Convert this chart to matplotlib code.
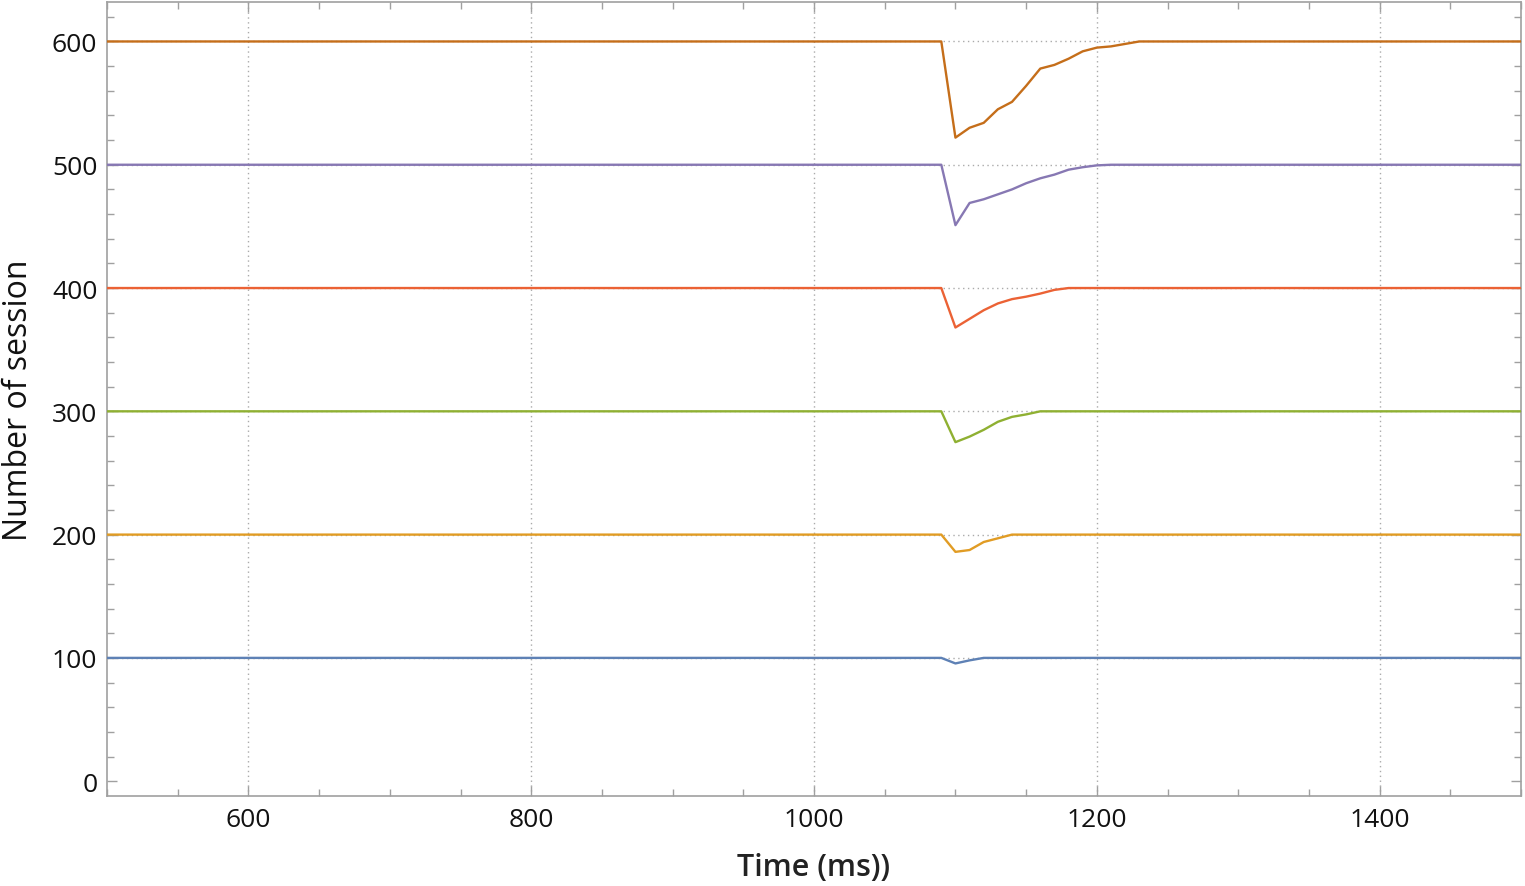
import matplotlib.pyplot as plt
from matplotlib.ticker import MultipleLocator

# time axis (ms) for every series; flat before 1090 and after the recovery
t_600 = [500, 1090, 1100, 1110, 1120, 1130, 1140, 1150, 1160, 1170, 1180, 1190, 1200, 1210, 1220, 1230, 1500]
s_600 = [600, 600, 522, 530, 534, 545, 551, 564, 578, 581, 586, 592, 595, 596, 598, 600, 600]

t_500 = [500, 1090, 1100, 1110, 1120, 1130, 1140, 1150, 1160, 1170, 1180, 1190, 1200, 1210, 1500]
s_500 = [500, 500, 451, 469, 472, 476, 480, 485, 489, 492, 496, 498, 499.5, 500, 500]

t_400 = [500, 1090, 1100, 1110, 1120, 1130, 1140, 1150, 1160, 1170, 1180, 1500]
s_400 = [400, 400, 368, 375, 382, 387.5, 391, 393, 395.5, 398.5, 400, 400]

t_300 = [500, 1090, 1100, 1110, 1120, 1130, 1140, 1150, 1160, 1500]
s_300 = [300, 300, 275, 279.5, 285, 291.5, 295.5, 297.5, 300, 300]

t_200 = [500, 1090, 1100, 1110, 1120, 1130, 1140, 1500]
s_200 = [200, 200, 186, 187.5, 194, 197, 200, 200]

t_100 = [500, 1090, 1100, 1110, 1120, 1500]
s_100 = [100, 100, 95.5, 98, 100, 100]

series = [
    (t_100, s_100, '#5E81B5'),
    (t_200, s_200, '#E19C24'),
    (t_300, s_300, '#8FB032'),
    (t_400, s_400, '#EB6235'),
    (t_500, s_500, '#8778B3'),
    (t_600, s_600, '#C56E1A'),
]

plt.rcParams['font.family'] = ['Open Sans', 'DejaVu Sans']

fig = plt.figure(figsize=(15.25, 8.87), dpi=100)
ax = fig.add_axes([0.0702, 0.1015, 0.9272, 0.8951])

# dotted grid
for gx in [600, 800, 1000, 1200, 1400]:
    ax.axvline(gx, color='#aaaaaa', lw=1, ls=(0, (1, 2.5)), zorder=1)
for gy in [100, 200, 300, 400, 500, 600]:
    ax.axhline(gy, color='#aaaaaa', lw=1, ls=(0, (1, 2.5)), zorder=1)

for t, s, c in series:
    ax.plot(t, s, color=c, lw=1.7, zorder=3)

ax.set_xlim(500, 1500)
ax.set_ylim(-12, 632)

ax.xaxis.set_major_locator(MultipleLocator(200))
ax.xaxis.set_minor_locator(MultipleLocator(50))
ax.yaxis.set_major_locator(MultipleLocator(100))
ax.yaxis.set_minor_locator(MultipleLocator(20))

ax.tick_params(which='both', direction='in', color='#a0a0a0',
               top=True, right=True, labelsize=19, labelcolor='#111111')
ax.tick_params(which='major', length=7, width=1)
ax.tick_params(which='minor', length=5, width=1)
ax.tick_params(axis='x', pad=8)
ax.tick_params(axis='y', pad=7)

for sp in ax.spines.values():
    sp.set_color('#a0a0a0')
    sp.set_linewidth(1.2)

ax.set_xlabel('Time (ms))', fontsize=22, fontweight='semibold', color='#222222', labelpad=14)
ax.set_ylabel('Number of session', fontsize=23, color='#111111', labelpad=12)

fig.savefig('out.png', dpi=100)
